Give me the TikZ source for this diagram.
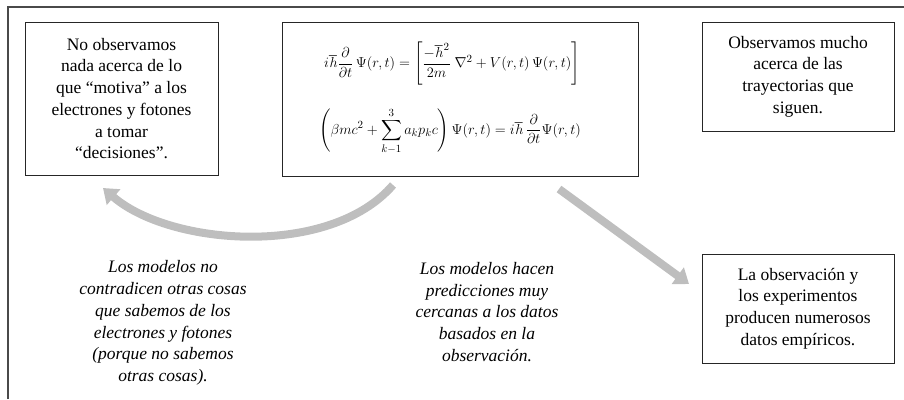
\documentclass[tikz,border=0pt]{standalone}
\usepackage{amsmath}
\usepackage{fontspec}
\setmainfont{Liberation Serif}
\usetikzlibrary{arrows.meta}
\definecolor{arrowgray}{HTML}{BEBEBE}
\definecolor{framegray}{HTML}{4A4A4A}
\tikzset{
  box/.style={draw=black!85, line width=1pt, align=center, inner sep=0pt,
    font=\fontsize{17.5}{21.7}\selectfont},
  note/.style={align=center, inner sep=0pt, font=\fontsize{17.5}{21.7}\selectfont\itshape},
  eqn/.style={inner sep=0pt, font=\fontsize{15.5}{18}\selectfont},
  bigarrow/.style={draw=arrowgray, line width=8pt,
    -{Triangle[width=20pt,length=14pt]}},
}
\begin{document}
\begin{tikzpicture}[x=1pt,y=-1pt]
\useasboundingbox (0,0) rectangle (904,399);
\draw[framegray, line width=1.8pt] (8,399) -- (8,7) -- (904,7);

\node[box, minimum width=193pt, minimum height=153pt] (b1) at (121.5,98.5)
  {No observamos\\nada acerca de lo\\que “motiva” a los\\electrones y fotones\\a tomar\\“decisiones”.};

\node[box, minimum width=356pt, minimum height=154pt] (b2) at (460,99) {};
\node[eqn] (eq1) at (452,64)
  {$i\hbar\dfrac{\partial}{\partial t}\,\Psi(r,t) = \left[\dfrac{-\hbar^2}{2m}\ \nabla^2 + V(r,t)\,\Psi(r,t)\right]$};
\node[eqn] (eq2) at (450,131)
  {$\left(\beta mc^2 + \displaystyle\sum_{k-1}^{3} a_k p_k c\right)\Psi(r,t) = i\hbar\,\dfrac{\partial}{\partial t}\Psi(r,t)$};

\node[box, minimum width=192pt, minimum height=109pt] (b3) at (798,76.5)
  {Observamos mucho\\acerca de las\\trayectorias que\\siguen.};

\node[box, minimum width=192pt, minimum height=109pt] (b4) at (798,308.5)
  {La observación y\\los experimentos\\producen numerosos\\datos empíricos.};

\node[note] (n1) at (163,323)
  {Los modelos no\\contradicen otras cosas\\que sabemos de los\\electrones y fotones\\(porque no sabemos\\otras cosas).};
\node[note] (n2) at (487,312)
  {Los modelos hacen\\predicciones muy\\cercanas a los datos\\basados en la\\observación.};

\coordinate (c1s) at (393,185);
\coordinate (c1e) at (103,188);
\coordinate (c2s) at (559,189);
\coordinate (c2e) at (689,284);
\draw[bigarrow] (c1s) .. controls (330,258) and (170,246) .. (c1e);
\draw[bigarrow] (c2s) -- (c2e);
\end{tikzpicture}
\end{document}
